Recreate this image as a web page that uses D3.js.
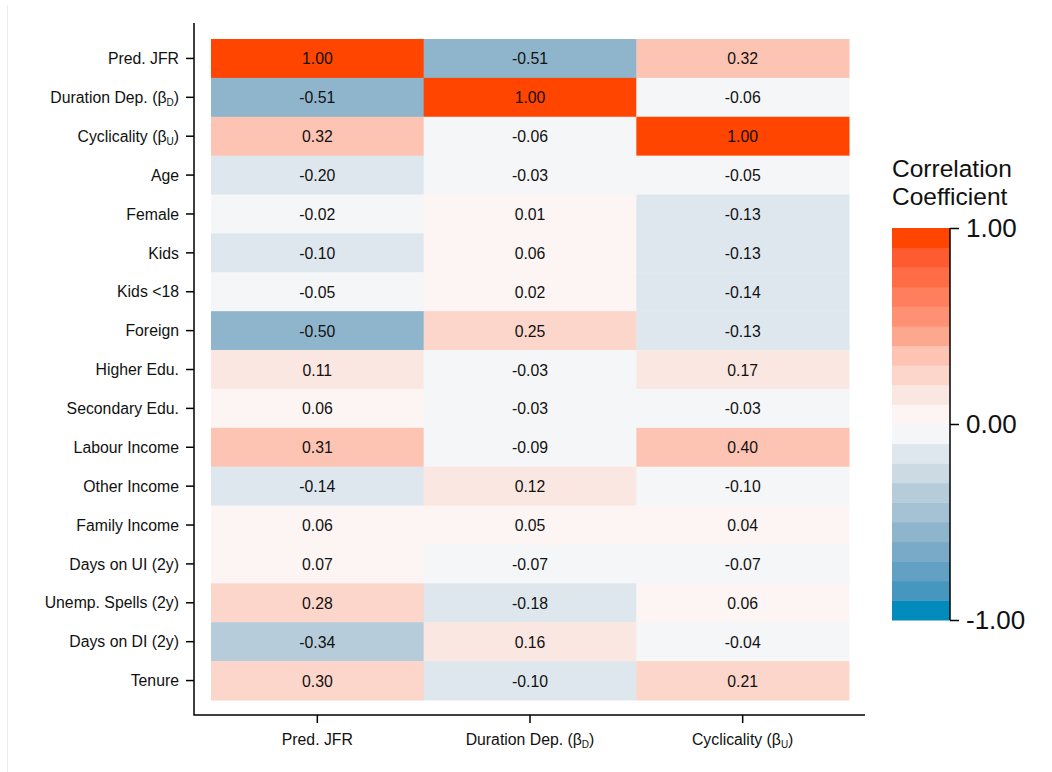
<!DOCTYPE html>
<html>
<head>
<meta charset="utf-8">
<script src="https://cdn.jsdelivr.net/npm/d3@7"></script>
<style>
  html, body { margin: 0; padding: 0; background: #fff; }
  svg { display: block; font-family: "Liberation Sans", Arial, Helvetica, sans-serif; }
</style>
</head>
<body>
<svg id="chart" width="1052" height="772"></svg>
<script>
// ---- data ----
const rowLabels = ["Pred. JFR", "Duration Dep. (β|D)", "Cyclicality (β|U)", "Age", "Female", "Kids", "Kids <18",
  "Foreign", "Higher Edu.", "Secondary Edu.", "Labour Income", "Other Income", "Family Income",
  "Days on UI (2y)", "Unemp. Spells (2y)", "Days on DI (2y)", "Tenure"];
const colLabels = ["Pred. JFR", "Duration Dep. (β|D)", "Cyclicality (β|U)"];
const predJFR     = [1.00, -0.51, 0.32, -0.198, -0.02, -0.102, -0.05, -0.502, 0.11, 0.06, 0.31, -0.14, 0.06, 0.07, 0.28, -0.34, 0.298];
const durationDep = [-0.51, 1.00, -0.06, -0.03, 0.01, 0.06, 0.02, 0.25, -0.03, -0.03, -0.09, 0.12, 0.05, -0.07, -0.18, 0.16, -0.102];
const cyclicality = [0.32, -0.06, 1.00, -0.05, -0.13, -0.13, -0.14, -0.13, 0.17, -0.03, 0.398, -0.098, 0.04, -0.07, 0.06, -0.04, 0.21];
const legendTicks = [-1, 0, 1];
const binThresholds = [-0.9, -0.8, -0.7, -0.6, -0.5, -0.4, -0.3, -0.2, -0.1, 0, 0.1, 0.2, 0.3, 0.4, 0.5, 0.6, 0.7, 0.8, 0.9];
const binColors = ["#008BBC", "#4696BF", "#62A1C3", "#79ABC8", "#8FB5CC", "#A4C2D4", "#B7CCDA", "#CCDAE3", "#DFE7EE", "#F5F6F8",
  "#FCF5F4", "#FBE7E1", "#FCD6CA", "#FDC4B3", "#FDA78F", "#FE9073", "#FF7E5C", "#FF6C46", "#FF5B30", "#FF4500"];

const seriesCols = [predJFR, durationDep, cyclicality];
const cells = [];
rowLabels.forEach((r, i) => colLabels.forEach((c, j) => cells.push({row: r, col: c, v: seriesCols[j][i]})));

// ---- layout ----
const FONT = '"Liberation Sans", Arial, Helvetica, sans-serif';
const svg = d3.select("#chart");
const FS = "15.8px";
const axisX0 = 194, axisX1 = 865, axisY0 = 23, axisY1 = 715;

svg.append("line").attr("x1", 7.5).attr("x2", 7.5).attr("y1", 5).attr("y2", 772)
  .attr("stroke", "#ececec").attr("stroke-width", 1);

const x = d3.scaleBand().domain(colLabels).range([211, 849]);
const y = d3.scaleBand().domain(rowLabels).range([39, 700]);
const color = d3.scaleThreshold().domain(binThresholds).range(binColors);
const fmt0 = d3.format(".2f");
const fmt = v => fmt0(v).replace("\u2212", "-");

// cells
const g = svg.append("g");
g.selectAll("rect").data(cells).join("rect")
  .attr("x", d => x(d.col)).attr("y", d => y(d.row))
  .attr("width", x.bandwidth() + 0.5).attr("height", y.bandwidth() + 0.5)
  .attr("fill", d => color(d.v));
g.selectAll("text").data(cells).join("text")
  .attr("x", d => x(d.col) + x.bandwidth() / 2).attr("y", d => y(d.row) + y.bandwidth() / 2)
  .attr("dy", "0.38em").attr("text-anchor", "middle")
  .attr("font-size", FS).attr("fill", "#111")
  .text(d => fmt(d.v));

// label with subscript
function setLabel(sel) {
  sel.each(function(d) {
    const t = d3.select(this);
    t.text(null);
    const parts = d.split("|");
    if (parts.length === 1) { t.text(d); return; }
    t.append("tspan").text(parts[0]);
    const sub = parts[1].replace(")", "");
    t.append("tspan").attr("font-size", "10px").attr("dy", "3").text(sub);
    t.append("tspan").attr("dy", "-3").text(")");
  });
}

// y axis
const yAxis = svg.append("g").attr("transform", `translate(${axisX0},0)`)
  .call(d3.axisLeft(y).tickSize(8).tickPadding(7))
  .attr("font-family", FONT).attr("font-size", FS);
yAxis.select(".domain").remove();
yAxis.selectAll(".tick line").attr("stroke", "#000").attr("stroke-width", 1.5);
yAxis.selectAll(".tick text").attr("fill", "#111").attr("dy", "0.36em").call(setLabel);

// x axis
const xAxis = svg.append("g").attr("transform", `translate(0,${axisY1})`)
  .call(d3.axisBottom(x).tickSize(8).tickPadding(11))
  .attr("font-family", FONT).attr("font-size", FS);
xAxis.select(".domain").remove();
xAxis.selectAll(".tick line").attr("stroke", "#000").attr("stroke-width", 1.5);
xAxis.selectAll(".tick text").attr("fill", "#111").call(setLabel);

svg.append("path")
  .attr("d", `M${axisX0},${axisY0}V${axisY1}H${axisX1}`)
  .attr("fill", "none").attr("stroke", "#000").attr("stroke-width", 1.5);

// ---- legend ----
const lx0 = 892, lx1 = 950;
const ly = d3.scaleLinear().domain([-1, 1]).range([620, 228]);
const bins = binColors.map((c, i) => ({lo: i === 0 ? -1 : binThresholds[i - 1], hi: i === binColors.length - 1 ? 1 : binThresholds[i], c}));
svg.append("g").selectAll("rect").data(bins).join("rect")
  .attr("x", lx0).attr("width", lx1 - lx0)
  .attr("y", d => ly(d.hi)).attr("height", d => ly(d.lo) - ly(d.hi) + 0.5)
  .attr("fill", d => d.c);
const lAxis = svg.append("g").attr("transform", `translate(${lx1},0)`)
  .call(d3.axisRight(ly).tickValues(legendTicks).tickFormat(fmt).tickSize(9).tickPadding(7))
  .attr("font-family", FONT).attr("font-size", "26px");
lAxis.select(".domain").attr("stroke", "#000").attr("stroke-width", 1.5).attr("d", `M0,${ly(-1)}V${ly(1)}`);
lAxis.selectAll(".tick line").attr("stroke", "#000").attr("stroke-width", 1.5);
lAxis.selectAll(".tick text").attr("fill", "#111");

svg.append("text").attr("x", 892).attr("y", 177).attr("font-size", "24.5px").attr("fill", "#111").text("Correlation");
svg.append("text").attr("x", 892).attr("y", 205).attr("font-size", "24.5px").attr("fill", "#111").text("Coefficient");
</script>
</body>
</html>
